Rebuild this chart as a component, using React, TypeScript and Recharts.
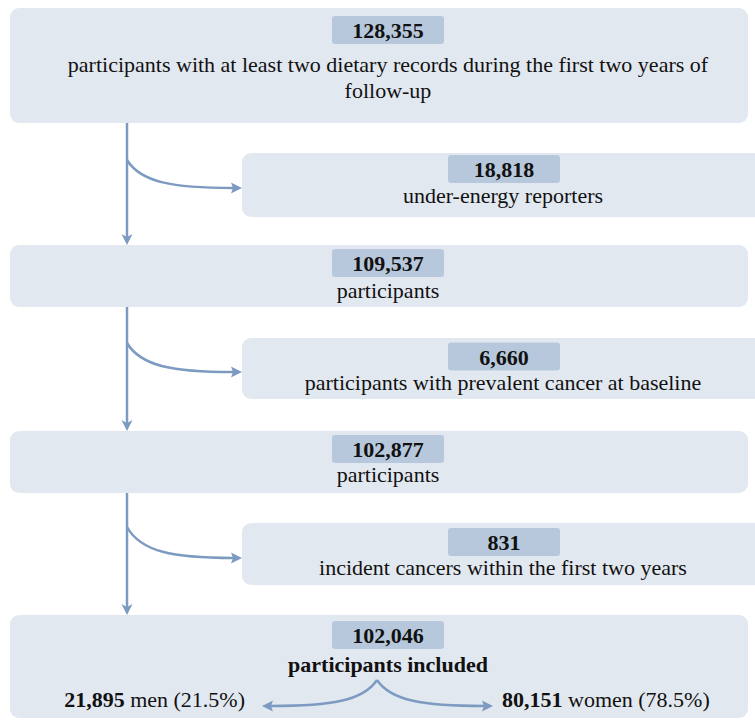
import React from "react";
import { ComposedChart, XAxis, YAxis, Scatter, ReferenceArea, ReferenceLine } from "recharts";

// ─── Values ──────────────────────────────────────────────────────────────────
const stepCounts = [128355, 18818, 109537, 6660, 102877, 831, 102046];
const stepCaptions = [
  ["participants with at least two dietary records during the first two years of", "follow-up"],
  ["under-energy reporters"],
  ["participants"],
  ["participants with prevalent cancer at baseline"],
  ["participants"],
  ["incident cancers within the first two years"],
  ["participants included"],
];
const splitGroups = ["men", "women"];
const splitCounts = [21895, 80151];
const splitShares = [21.5, 78.5];

// ─── Layout (diagram units = pixels) ─────────────────────────────────────────
const W = 755;
const H = 722;
const MAIN_X = 388;
const SIDE_X = 504;
const TRUNK_X = 127;
const boxFrames = [
  { x1: 10, x2: 748, y1: 8, y2: 123 },
  { x1: 242, x2: 765, y1: 153, y2: 217 },
  { x1: 10, x2: 748, y1: 245, y2: 307 },
  { x1: 242, x2: 765, y1: 338, y2: 399 },
  { x1: 10, x2: 748, y1: 431, y2: 493 },
  { x1: 242, x2: 765, y1: 523, y2: 585 },
  { x1: 10, x2: 748, y1: 615, y2: 718 },
];
const badgeY = [30, 169, 263, 356.5, 449, 542, 635];
const captionY = [[72, 98], [203], [298], [390], [482], [575], [672]];
const splitX = [245, 502];
const splitY = 707;
const trunkSpans = [[123, 245], [307, 431], [493, 615]];
const branchSpans = [
  [160, 188],
  [343, 372],
  [527, 558],
];
const splitFrom = { x: 377, y: 680 };
const splitTo = [
  { x: 262, y: 706 },
  { x: 493, y: 706 },
];

// ─── Styles ──────────────────────────────────────────────────────────────────
const FONT = "Liberation Serif, Times New Roman, DejaVu Serif, serif";
const BOX = "#e2e8f0";
const BADGE = "#b8c8dc";
const ARROW = "#7d9bc1";
const INK = "#111111";

const fmt = (n: number) => n.toLocaleString("en-US");

const badgeData = stepCounts.map((c, i) => ({
  x: i % 2 === 0 ? MAIN_X : SIDE_X,
  y: badgeY[i],
  label: fmt(c),
}));

const captionData = stepCaptions.flatMap((lines, i) =>
  lines.map((t, j) => ({
    x: i % 2 === 0 ? MAIN_X : SIDE_X - 1,
    y: captionY[i][j],
    text: t,
    bold: i === stepCaptions.length - 1,
  }))
);

const splitData = splitGroups.map((g, i) => ({
  x: splitX[i],
  y: splitY,
  count: fmt(splitCounts[i]),
  rest: ` ${g} (${splitShares[i]}%)`,
  anchor: i === 0 ? "end" : "start",
}));

const textStyle = { fontFamily: FONT, fontSize: 22 };

// ─── Shapes ──────────────────────────────────────────────────────────────────
function BoxShape(p: any) {
  return <rect x={p.x} y={p.y} width={p.width} height={p.height} rx={9} fill={BOX} />;
}

function Badge(p: any) {
  const { cx, cy, payload } = p;
  return (
    <g>
      <rect x={cx - 56} y={cy - 14} width={112} height={28} rx={3} fill={BADGE} />
      <text x={cx} y={cy + 8} textAnchor="middle" style={{ ...textStyle, fontWeight: 700 }} fill={INK}>
        {payload.label}
      </text>
    </g>
  );
}

function Caption(p: any) {
  const { cx, cy, payload } = p;
  return (
    <text x={cx} y={cy} textAnchor="middle" style={{ ...textStyle, fontWeight: payload.bold ? 700 : 400 }} fill={INK}>
      {payload.text}
    </text>
  );
}

function SplitLabel(p: any) {
  const { cx, cy, payload } = p;
  return (
    <text x={cx} y={cy} textAnchor={payload.anchor} style={textStyle} fill={INK}>
      <tspan style={{ fontWeight: 700 }}>{payload.count}</tspan>
      <tspan>{payload.rest}</tspan>
    </text>
  );
}

function TrunkArrow(p: any) {
  const { x1, y1, x2, y2 } = p;
  return (
    <g>
      <line x1={x1} y1={y1} x2={x2} y2={y2 - 8} stroke={ARROW} strokeWidth={2.5} />
      <path d={`M${x2 - 5.5},${y2 - 11} L${x2},${y2 - 8} L${x2 + 5.5},${y2 - 11} L${x2},${y2} Z`} fill={ARROW} />
    </g>
  );
}

function CurvedArrow(p: any) {
  const { x1, y1, x2, y2 } = p;
  const dir = x2 > x1 ? 1 : -1;
  const dx = x2 - x1;
  const dy = y2 - y1;
  const ex = x2 - dir * 9;
  const d = `M${x1},${y1} C${x1 + dx * 0.12},${y1 + dy * 0.8} ${x1 + dx * 0.4},${y2} ${ex},${y2}`;
  return (
    <g>
      <path d={d} fill="none" stroke={ARROW} strokeWidth={2.5} />
      <path d={`M${x2},${y2} L${x2 - dir * 11},${y2 - 5.5} L${ex},${y2} L${x2 - dir * 11},${y2 + 5.5} Z`} fill={ARROW} />
    </g>
  );
}

// ─── Flow chart ──────────────────────────────────────────────────────────────
export default function App() {
  return (
    <div style={{ width: W, height: H, background: "#fff", fontFamily: FONT }}>
      <style>{"body{margin:0}"}</style>
      <ComposedChart width={W} height={H} margin={{ top: 0, right: 0, bottom: 0, left: 0 }}>
        <XAxis dataKey="x" type="number" domain={[0, W]} allowDataOverflow hide />
        <YAxis dataKey="y" type="number" domain={[0, H]} reversed allowDataOverflow hide />

        {boxFrames.map((b, i) => (
          <ReferenceArea key={`box-${i}`} x1={b.x1} x2={b.x2} y1={b.y1} y2={b.y2}
            ifOverflow="visible" shape={BoxShape} />
        ))}

        {trunkSpans.map(([a, b], i) => (
          <ReferenceLine key={`trunk-${i}`} ifOverflow="visible"
            segment={[{ x: TRUNK_X, y: a }, { x: TRUNK_X, y: b }]} shape={TrunkArrow} />
        ))}
        {branchSpans.map(([a, b], i) => (
          <ReferenceLine key={`branch-${i}`} ifOverflow="visible"
            segment={[{ x: TRUNK_X, y: a }, { x: boxFrames[2 * i + 1].x1, y: b }]} shape={CurvedArrow} />
        ))}
        {splitTo.map((t, i) => (
          <ReferenceLine key={`split-${i}`} ifOverflow="visible"
            segment={[splitFrom, t]} shape={CurvedArrow} />
        ))}

        <Scatter data={badgeData} shape={Badge} isAnimationActive={false} />
        <Scatter data={captionData} shape={Caption} isAnimationActive={false} />
        <Scatter data={splitData} shape={SplitLabel} isAnimationActive={false} />
      </ComposedChart>
    </div>
  );
}
